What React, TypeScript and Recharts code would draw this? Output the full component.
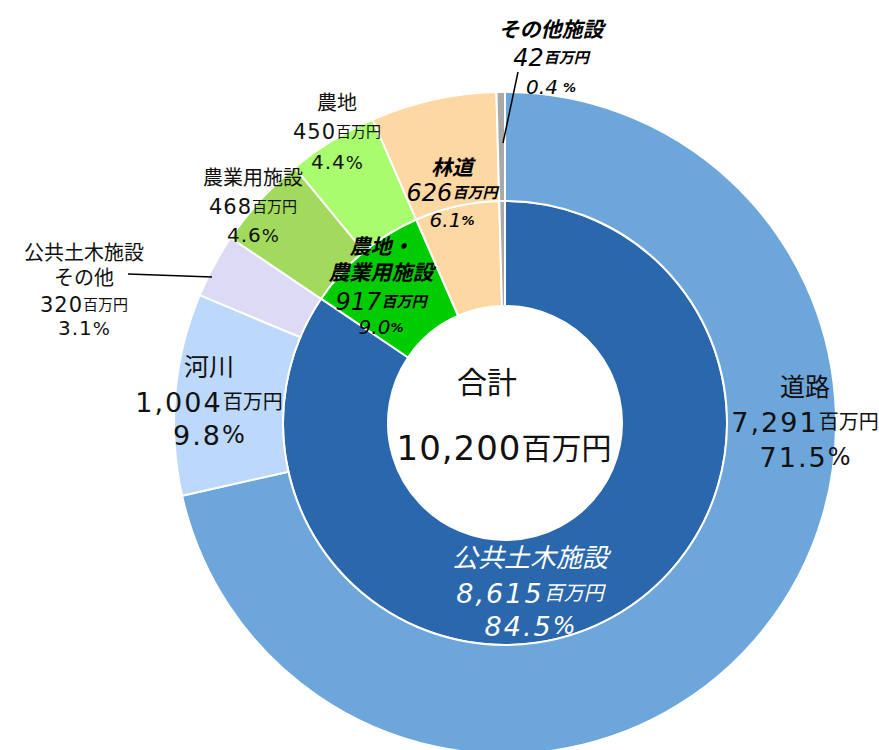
import { PieChart, Pie, Cell } from 'recharts';

// 内側: 施設区分
const INNER_NAMES = ['公共土木施設', '農地・\n農業用施設', '林道', 'その他施設'];
const INNER_VALUES = [8615, 917, 626, 42];
const INNER_COLORS = ['#2b67ac', '#00cc00', '#fdd8a2', '#a9a9a9'];

// 外側: 内訳
const OUTER_NAMES = ['道路', '河川', '公共土木施設\nその他', '農業用施設', '農地', '林道', 'その他施設'];
const OUTER_VALUES = [7291, 1004, 320, 468, 450, 626, 42];
const OUTER_COLORS = ['#6ca6da', '#bcd8fa', '#dcdaf5', '#a2da5e', '#a8fc6e', '#fdd8a2', '#a9a9a9'];

const UNIT = '百万円';

const innerData = INNER_NAMES.map((name, i) => ({ name, value: INNER_VALUES[i] }));
const outerData = OUTER_NAMES.map((name, i) => ({ name, value: OUTER_VALUES[i] }));
const TOTAL = INNER_VALUES.reduce((a, b) => a + b, 0);

const FONT = "'DejaVu Sans', 'Noto Sans CJK JP', sans-serif";
const CX = 500;
const CY = 418;

type LabelStyle = {
  dx: number;
  ys: number[];
  nameSize: number;
  numSize: number;
  unitSize: number;
  pctSize: number;
  signSize: number;
  spacing: number;
  fill: string;
  bold?: boolean;
  italic?: boolean;
  signGap?: boolean;
  leader?: [number, number, number, number];
};

const SMALL = { nameSize: 20, numSize: 21, unitSize: 15, pctSize: 20, signSize: 18, spacing: 1, fill: '#111' };
const BIG = { nameSize: 25, numSize: 27, unitSize: 20, pctSize: 27, signSize: 24, spacing: 2, fill: '#111' };
const BOLD = { nameSize: 21, numSize: 24, unitSize: 15, pctSize: 20, signSize: 13, spacing: 0, fill: '#000', bold: true, italic: true };

// label placement relative to the pie centre
const INNER_LABELS: (LabelStyle | null)[] = [
  { ...BIG, dx: 25, ys: [135, 170, 203], nameSize: 26, fill: '#ffffff', italic: true },
  { ...BOLD, dx: -124, ys: [-176, -150, -121, -96] },
  { ...BOLD, dx: -53, ys: [-255, -230, -203] },
  { ...BOLD, dx: 46, ys: [-393, -365, -336], signGap: true, leader: [13, -351, -2, -280] },
];

const OUTER_LABELS: (LabelStyle | null)[] = [
  { ...BIG, dx: 300, ys: [-36, -1, 34] },
  { ...BIG, dx: -296, ys: [-56, -21, 12] },
  { ...SMALL, dx: -421, ys: [-170, -145, -118, -95], leader: [-377, -149, -293, -146] },
  { ...SMALL, dx: -252, ys: [-245, -216, -188] },
  { ...SMALL, dx: -168, ys: [-320, -291, -261] },
  null,
  null,
];

function renderBlock(styles: (LabelStyle | null)[]) {
  return (props: any) => {
    const { index, cx, cy, value, percent, name } = props;
    const s = styles[index];
    if (!s) return null;
    const nameLines = String(name).split('\n');
    const pct = (percent * 100).toFixed(1);
    const common = {
      x: cx + s.dx,
      textAnchor: 'middle' as const,
      dominantBaseline: 'central' as const,
      fill: s.fill,
      fontFamily: FONT,
      fontWeight: 400,
      fontStyle: s.italic ? 'italic' : 'normal',
    };
    const heavy = s.bold ? 700 : 400;
    const n = nameLines.length;
    return (
      <g>
        {s.leader && (
          <line
            x1={cx + s.leader[0]}
            y1={cy + s.leader[1]}
            x2={cx + s.leader[2]}
            y2={cy + s.leader[3]}
            stroke="#000"
            strokeWidth={1.5}
          />
        )}
        {nameLines.map((line, i) => (
          <text key={i} {...common} y={cy + s.ys[i]} fontSize={s.nameSize} fontWeight={heavy}>{line}</text>
        ))}
        <text {...common} y={cy + s.ys[n]} fontSize={s.numSize}>
          <tspan letterSpacing={s.spacing}>{Number(value).toLocaleString('en-US')}</tspan>
          <tspan fontSize={s.unitSize} fontWeight={heavy}>{UNIT}</tspan>
        </text>
        <text {...common} y={cy + s.ys[n + 1]} fontSize={s.pctSize}>
          <tspan letterSpacing={s.spacing}>{pct}</tspan>
          <tspan fontSize={s.signSize} fontWeight={heavy} dx={s.signGap ? 5 : 0}>%</tspan>
        </text>
      </g>
    );
  };
}

export default function App() {
  return (
    <div style={{ position: 'absolute', left: 0, top: 0, width: 879, height: 750, background: '#fff' }}>
      <PieChart width={879} height={750}>
        <Pie
          data={innerData}
          dataKey="value"
          nameKey="name"
          cx={CX}
          cy={CY}
          innerRadius={117}
          outerRadius={222}
          startAngle={90}
          endAngle={-270}
          stroke="#ffffff"
          strokeWidth={2}
          isAnimationActive={false}
          labelLine={false}
          label={renderBlock(INNER_LABELS)}
        >
          {innerData.map((d, i) => (
            <Cell key={d.name} fill={INNER_COLORS[i]} />
          ))}
        </Pie>
        <Pie
          data={outerData}
          dataKey="value"
          nameKey="name"
          cx={CX}
          cy={CY}
          innerRadius={222}
          outerRadius={331}
          startAngle={90}
          endAngle={-270}
          stroke="#ffffff"
          strokeWidth={2}
          isAnimationActive={false}
          labelLine={false}
          label={renderBlock(OUTER_LABELS)}
        >
          {outerData.map((d, i) => (
            <Cell key={d.name} fill={OUTER_COLORS[i]} />
          ))}
        </Pie>
        <text x={CX - 13} y={CY - 36} textAnchor="middle" dominantBaseline="central" fontFamily={FONT} fontSize={30} fill="#111">
          合計
        </text>
        <text x={CX + 4} y={CY + 30} textAnchor="middle" dominantBaseline="central" fontFamily={FONT} fontSize={34} fill="#111">
          <tspan letterSpacing={1}>{TOTAL.toLocaleString('en-US')}</tspan>
          <tspan fontSize={30}>{UNIT}</tspan>
        </text>
      </PieChart>
    </div>
  );
}
